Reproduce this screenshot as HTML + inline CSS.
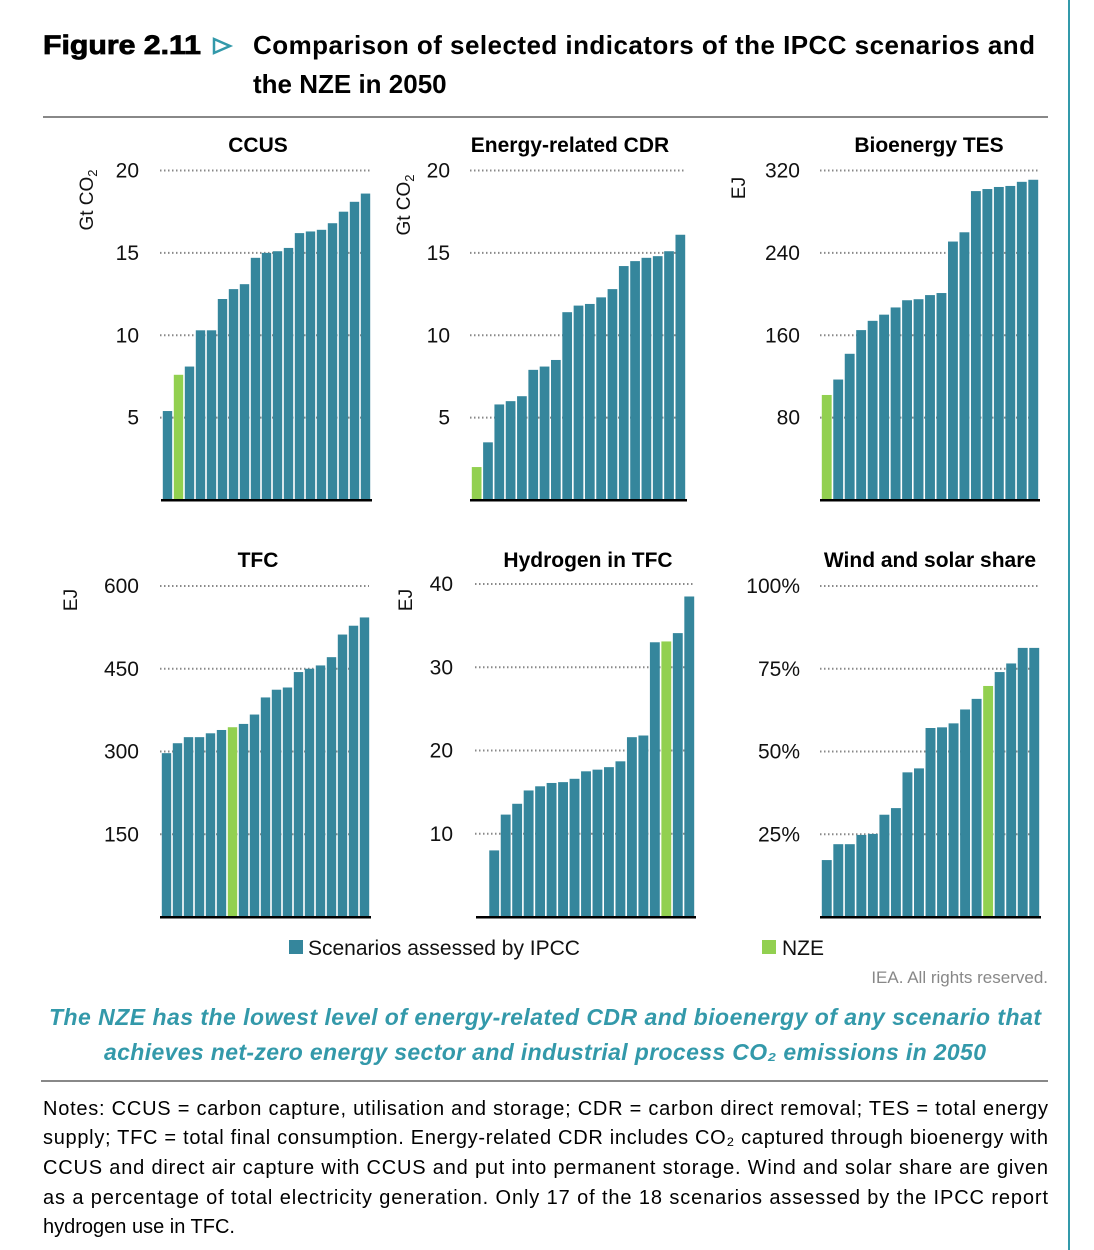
<!DOCTYPE html>
<html><head><meta charset="utf-8"><style>
html,body{margin:0;padding:0;background:#fff;}
svg{display:block;font-family:"Liberation Sans",sans-serif;}
</style></head><body>
<svg id="fig" width="1094" height="1250" viewBox="0 0 1094 1250" xmlns="http://www.w3.org/2000/svg">
<rect x="1068" y="0" width="2" height="1250" fill="#3399AA"/>
<text x="43" y="54" font-size="27" font-weight="bold" fill="#000" textLength="158" lengthAdjust="spacingAndGlyphs" stroke="#000" stroke-width="0.8">Figure 2.11</text>
<path d="M214,39 L230,46 L214,53 Z" fill="none" stroke="#3399AA" stroke-width="2.5"/>
<text x="253" y="54" font-size="26" font-weight="bold" fill="#000" textLength="782">Comparison of selected indicators of the IPCC scenarios and</text>
<text x="253" y="93" font-size="26" font-weight="bold" fill="#000">the NZE in 2050</text>
<rect x="43" y="116" width="1005" height="2" fill="#888"/>
<g id="charts"></g>
<rect x="289" y="940" width="14" height="14" fill="#35869C"/>
<text x="308" y="955" font-size="21" fill="#111">Scenarios assessed by IPCC</text>
<rect x="762" y="940" width="14" height="14" fill="#92D050"/>
<text x="782" y="955" font-size="21" fill="#111">NZE</text>
<text x="1048" y="983" font-size="17" fill="#888" text-anchor="end">IEA. All rights reserved.</text>
<text x="545" y="1025" font-size="23" font-weight="bold" font-style="italic" fill="#3399AA" text-anchor="middle" textLength="992">The NZE has the lowest level of energy-related CDR and bioenergy of any scenario that</text>
<text x="545" y="1060" font-size="23" font-weight="bold" font-style="italic" fill="#3399AA" text-anchor="middle" textLength="882">achieves net-zero energy sector and industrial process CO₂ emissions in 2050</text>
<rect x="41" y="1080" width="1007" height="2" fill="#888"/>
<g font-size="20" fill="#000">
<text x="43" y="1115" textLength="1005">Notes: CCUS = carbon capture, utilisation and storage; CDR = carbon direct removal; TES = total energy</text>
<text x="43" y="1144" textLength="1005">supply; TFC = total final consumption. Energy-related CDR includes CO₂ captured through bioenergy with</text>
<text x="43" y="1174" textLength="1005">CCUS and direct air capture with CCUS and put into permanent storage. Wind and solar share are given</text>
<text x="43" y="1204" textLength="1005">as a percentage of total electricity generation. Only 17 of the 18 scenarios assessed by the IPCC report</text>
<text x="43" y="1233">hydrogen use in TFC.</text>
</g>
</svg>
<script>
const ccusValues = [5.4,7.6,8.1,10.3,10.3,12.2,12.8,13.1,14.7,15.0,15.1,15.3,16.2,16.3,16.4,16.8,17.5,18.1,18.6];
const ccusNze = 1;
const ccusTicks = [5,10,15,20];
const cdrValues = [2.0,3.5,5.8,6.0,6.3,7.9,8.1,8.5,11.4,11.8,11.9,12.3,12.8,14.2,14.5,14.7,14.8,15.1,16.1];
const cdrNze = 0;
const cdrTicks = [5,10,15,20];
const bioValues = [102,117,142,165,174,180,187,194,195,199,201,251,260,300,302,304,305,309,311];
const bioNze = 0;
const bioTicks = [80,160,240,320];
const tfcValues = [297,315,326,326,333,339,344,350,367,398,412,416,444,450,456,471,512,528,543];
const tfcNze = 6;
const tfcTicks = [150,300,450,600];
const h2Values = [null,8.0,12.3,13.6,15.2,15.7,16.1,16.2,16.6,17.5,17.7,18.0,18.7,21.6,21.8,33.0,33.1,34.1,38.5];
const h2Nze = 16;
const h2Ticks = [10,20,30,40];
const wsValues = [17.2,22,22,24.8,25.1,30.9,32.9,43.7,44.9,57.1,57.3,58.5,62.7,65.9,69.8,74,76.6,81.3,81.3];
const wsNze = 14;
const wsTicks = [25,50,75,100];
const wsTickLabels = ["25%","50%","75%","100%"];

const NS = "http://www.w3.org/2000/svg";
const root = document.getElementById("charts");
function mk(tag, attrs, parent){
  const e = document.createElementNS(NS, tag);
  for (const k in attrs) e.setAttribute(k, attrs[k]);
  parent.appendChild(e);
  return e;
}
function chart(o){
  const g = mk("g", {}, root);
  
  
  const max = o.ticks[o.ticks.length-1];
  const y = v => o.y0 - (v / max) * (o.y0 - o.yTop);
  const slot = (o.x1 - o.x0) / o.values.length;
  const x = i => o.x0 + i * slot;
  o.ticks.forEach((t, i) => {
    const ln = mk("line", {x1:o.gx0, x2:o.x1 - 1, y1:y(t), y2:y(t), stroke:"#888", "stroke-width":2, "stroke-dasharray":"1.5 2.5"}, g);
    
    
    const tx = mk("text", {x:o.lx, y:y(t) + 7, "font-size":21, "text-anchor":"end", fill:"#111"}, g);
    tx.textContent = o.labels ? o.labels[i] : t;
    
    
  });
  o.values.forEach((v, i) => {
    if (v === null) return;
    const r = mk("rect", {x:x(i) + 0.8, y:y(v), width:slot - 1.6, height:o.y0 - y(v), fill: i === o.nze ? "#92D050" : "#35869C"}, g);
    
    
  });
  const ax = mk("rect", {x:o.x0 - 1, y:o.y0 - 1, width:o.x1 - o.x0 + 2, height:2.5, fill:"#000"}, g);
  
  
  const ti = mk("text", {x:o.tx, y:o.ty, "font-size":21, "font-weight":"bold", "text-anchor":"middle", fill:"#000"}, g);
  ti.textContent = o.title;
  
  
  if (o.unit){
    const u = mk("text", {x:0, y:0, "font-size":19, "text-anchor":"middle", fill:"#111", transform:"translate(" + o.ux + "," + o.uy + ") rotate(-90)"}, g);
    if (o.unit === "co2"){
      u.appendChild(document.createTextNode("Gt CO"));
      const s = mk("tspan", {"font-size":13, dy:4}, u);
      s.textContent = "2";
    } else u.textContent = o.unit;
    
    
  }
}
chart({name:"ccus-chart", title:"CCUS", tx:258, ty:152, values:ccusValues, nze:ccusNze, ticks:ccusTicks, x0:162, x1:371, gx0:160, y0:500, yTop:170.5, lx:139, unit:"co2", ux:93, uy:200});
chart({name:"cdr-chart", title:"Energy-related CDR", tx:570, ty:152, values:cdrValues, nze:cdrNze, ticks:cdrTicks, x0:471, x1:686, gx0:470, y0:500, yTop:170.5, lx:450, unit:"co2", ux:410, uy:205});
chart({name:"bioenergy-chart", title:"Bioenergy TES", tx:929, ty:152, values:bioValues, nze:bioNze, ticks:bioTicks, x0:821, x1:1039, gx0:820, y0:500, yTop:170.5, lx:800, unit:"EJ", ux:745, uy:188});
chart({name:"tfc-chart", title:"TFC", tx:258, ty:567, values:tfcValues, nze:tfcNze, ticks:tfcTicks, x0:161, x1:370, gx0:160, y0:917, yTop:586, lx:139, unit:"EJ", ux:77, uy:600});
chart({name:"hydrogen-chart", title:"Hydrogen in TFC", tx:588, ty:567, values:h2Values, nze:h2Nze, ticks:h2Ticks, x0:477, x1:695, gx0:475, y0:917, yTop:584, lx:453, unit:"EJ", ux:412, uy:600});
chart({name:"wind-solar-chart", title:"Wind and solar share", tx:930, ty:567, values:wsValues, nze:wsNze, ticks:wsTicks, labels:wsTickLabels, x0:821, x1:1040, gx0:820, y0:917, yTop:586, lx:800});
</script>
</body></html>
